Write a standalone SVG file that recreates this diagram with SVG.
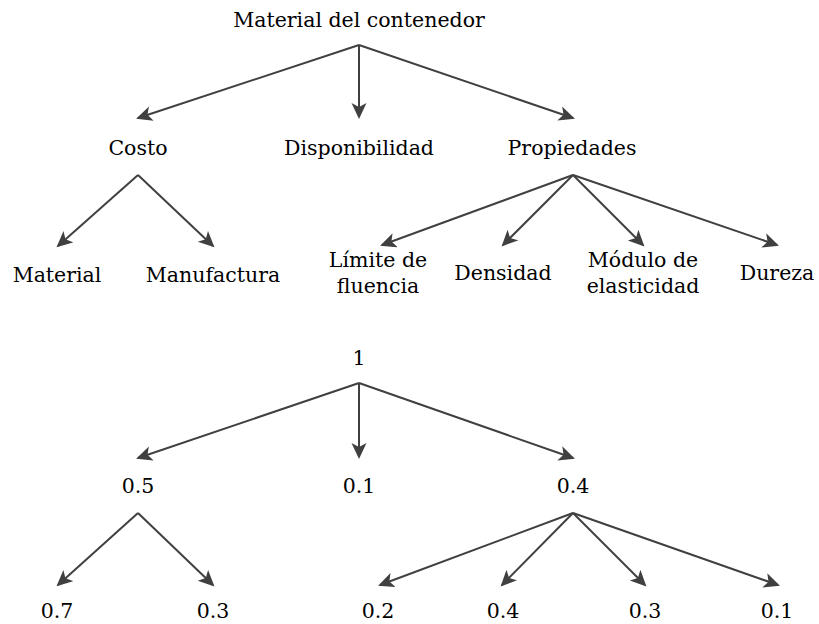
<svg xmlns="http://www.w3.org/2000/svg" width="819" height="624" viewBox="0 0 819 624">
<style>
text{font-family:"DejaVu Serif","Liberation Serif",serif;font-size:20.5px;fill:#000;text-anchor:middle}
.c line{stroke:#404040;stroke-width:2;marker-end:url(#ah)}
</style>
<defs>
<marker id="ah" markerUnits="userSpaceOnUse" markerWidth="18" markerHeight="16" refX="14" refY="7.5" orient="auto" viewBox="0 0 18 16">
<path d="M0,0 L16,7.5 L0,15 L4,7.5 z" fill="#404040"/>
</marker>
</defs>
<rect width="819" height="624" fill="#fff"/>
<g class="c" id="connectors">
<line x1="359" y1="45" x2="138" y2="118"/>
<line x1="359" y1="45" x2="359" y2="117"/>
<line x1="359" y1="45" x2="573" y2="118"/>
<line x1="138" y1="175" x2="58" y2="246"/>
<line x1="138" y1="175" x2="213" y2="246"/>
<line x1="573" y1="175" x2="382" y2="245"/>
<line x1="573" y1="175" x2="503" y2="245"/>
<line x1="573" y1="175" x2="643" y2="245"/>
<line x1="573" y1="175" x2="777" y2="245"/>
<line x1="359" y1="383" x2="138" y2="458"/>
<line x1="359" y1="383" x2="359" y2="457"/>
<line x1="359" y1="383" x2="573" y2="458"/>
<line x1="138" y1="513" x2="58" y2="585"/>
<line x1="138" y1="513" x2="213" y2="585"/>
<line x1="573" y1="513" x2="380" y2="585"/>
<line x1="573" y1="513" x2="502" y2="585"/>
<line x1="573" y1="513" x2="645" y2="585"/>
<line x1="573" y1="513" x2="778" y2="585"/>
</g>
<g id="n-root"><text x="359" y="27">Material del contenedor</text></g>
<g id="n-costo"><text x="138" y="155">Costo</text></g>
<g id="n-disp"><text x="359" y="155">Disponibilidad</text></g>
<g id="n-prop"><text x="572" y="155">Propiedades</text></g>
<g id="n-mat"><text x="57" y="282">Material</text></g>
<g id="n-manu"><text x="213" y="282">Manufactura</text></g>
<g id="n-lim"><text x="378" y="267">Límite de</text><text x="378" y="293">fluencia</text></g>
<g id="n-dens"><text x="503" y="280">Densidad</text></g>
<g id="n-mod"><text x="643" y="267">Módulo de</text><text x="643" y="293">elasticidad</text></g>
<g id="n-dur"><text x="777" y="280">Dureza</text></g>
<g id="w-root"><text x="359" y="365">1</text></g>
<g id="w-costo"><text x="138" y="493">0.5</text></g>
<g id="w-disp"><text x="359" y="493">0.1</text></g>
<g id="w-prop"><text x="573" y="493">0.4</text></g>
<g id="w-mat"><text x="57" y="618">0.7</text></g>
<g id="w-manu"><text x="213" y="618">0.3</text></g>
<g id="w-lim"><text x="378" y="618">0.2</text></g>
<g id="w-dens"><text x="503" y="618">0.4</text></g>
<g id="w-mod"><text x="645" y="618">0.3</text></g>
<g id="w-dur"><text x="777" y="618">0.1</text></g>
</svg>
